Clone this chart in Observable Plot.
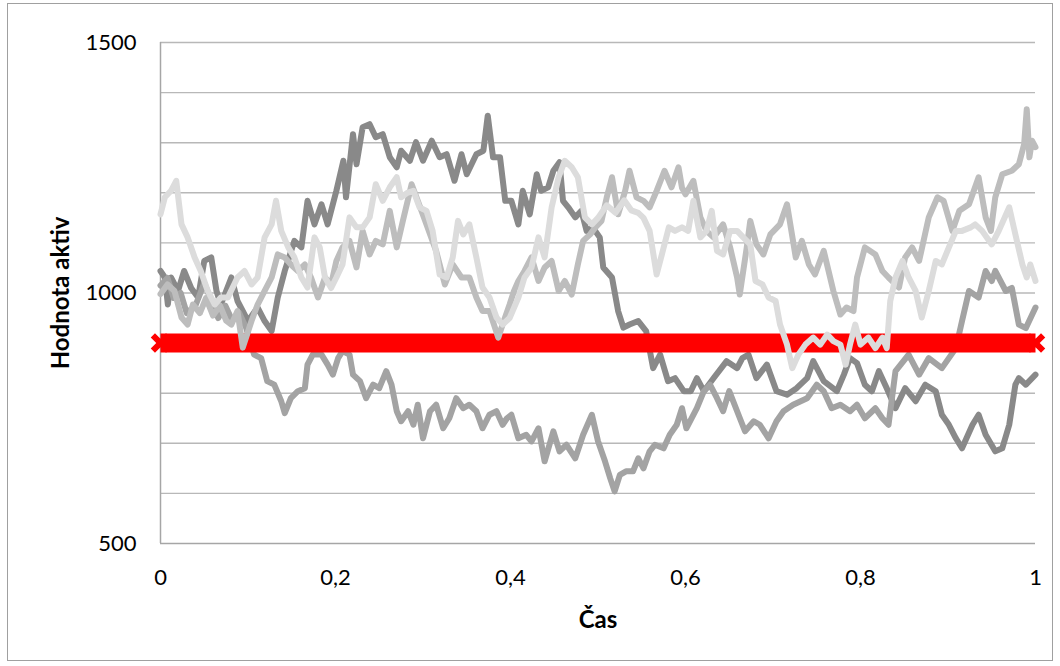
<!DOCTYPE html>
<html><head><meta charset="utf-8">
<script src="https://cdn.jsdelivr.net/npm/d3@7"></script>
<script src="https://cdn.jsdelivr.net/npm/@observablehq/plot@0.6"></script>
<style>
body{margin:0;background:#fff;}
#chart{position:relative;width:1060px;height:666px;}
</style></head><body><div id="chart"></div>
<script>
// Series A (dark gray)
const tA = [0,0.005,0.0084,0.012,0.02,0.027,0.035,0.043,0.05,0.058,0.064,0.069,0.081,0.088,0.1,0.111,0.119,0.127,0.134,0.142,0.153,0.161,0.168,0.176,0.184,0.191,0.201,0.209,0.212,0.22,0.224,0.231,0.239,0.246,0.254,0.262,0.27,0.275,0.285,0.292,0.3,0.31,0.319,0.327,0.336,0.344,0.35,0.361,0.369,0.374,0.38,0.388,0.394,0.401,0.409,0.414,0.422,0.43,0.435,0.443,0.449,0.456,0.46,0.466,0.474,0.481,0.487,0.494,0.502,0.506,0.516,0.523,0.529,0.536,0.546,0.555,0.563,0.571,0.58,0.588,0.598,0.606,0.613,0.621,0.632,0.647,0.659,0.665,0.672,0.681,0.693,0.704,0.716,0.727,0.739,0.746,0.758,0.773,0.781,0.788,0.796,0.805,0.813,0.821,0.83,0.84,0.851,0.863,0.874,0.886,0.893,0.901,0.909,0.916,0.928,0.935,0.943,0.954,0.962,0.97,0.977,0.981,0.989,1];
const vA = [1044,1031,977,1031,1004,1044,1010,991,1064,1071,1004,977,1031,984,944,971,944,924,991,1044,1104,1091,1184,1137,1177,1137,1204,1264,1191,1317,1257,1331,1337,1311,1317,1271,1251,1284,1264,1301,1264,1304,1271,1277,1224,1277,1237,1277,1284,1354,1271,1271,1184,1184,1137,1204,1157,1237,1204,1211,1244,1261,1184,1171,1151,1164,1124,1131,1111,1051,1031,964,931,937,944,924,850,877,824,830,804,804,830,804,830,864,850,870,877,830,857,804,797,810,830,864,824,804,837,870,860,817,804,844,810,770,810,784,817,804,757,737,710,690,737,757,717,684,690,737,817,830,817,837];
// Series B (medium gray)
const tB = [0,0.008,0.015,0.023,0.03,0.04,0.05,0.058,0.066,0.074,0.082,0.09,0.098,0.107,0.115,0.122,0.13,0.138,0.142,0.149,0.157,0.165,0.168,0.174,0.184,0.191,0.197,0.203,0.208,0.216,0.22,0.228,0.235,0.243,0.25,0.258,0.264,0.27,0.275,0.283,0.289,0.294,0.3,0.308,0.315,0.323,0.33,0.338,0.346,0.353,0.361,0.368,0.376,0.384,0.391,0.396,0.401,0.409,0.418,0.424,0.432,0.439,0.449,0.456,0.464,0.474,0.483,0.493,0.5,0.508,0.514,0.519,0.525,0.532,0.54,0.546,0.552,0.559,0.565,0.575,0.582,0.59,0.596,0.601,0.613,0.621,0.628,0.636,0.643,0.65,0.659,0.668,0.678,0.685,0.695,0.704,0.712,0.723,0.739,0.75,0.758,0.767,0.777,0.788,0.796,0.805,0.817,0.825,0.832,0.84,0.855,0.867,0.878,0.893,0.909,0.916,0.924,0.935,0.943,0.95,0.954,0.966,0.973,0.981,0.989,1];
const vB = [1015,1030,990,1000,960,975,1020,985,950,975,945,960,930,877,870,824,817,784,760,790,804,810,857,877,877,857,837,870,884,877,837,824,790,817,810,844,817,764,744,764,737,777,710,764,777,730,750,790,770,777,764,730,757,764,737,750,757,710,717,704,730,664,724,684,697,670,717,757,704,664,630,604,637,644,644,670,650,684,697,690,717,737,770,730,770,804,817,790,764,804,764,724,744,737,710,744,764,777,790,817,804,770,777,764,777,750,770,750,737,844,877,837,870,850,890,944,1004,991,1044,1024,1044,1004,1010,937,930,971];
// Series C (light-medium gray)
const tC = [0,0.008,0.016,0.024,0.031,0.037,0.045,0.052,0.06,0.068,0.075,0.081,0.088,0.094,0.104,0.111,0.119,0.127,0.134,0.142,0.149,0.157,0.165,0.172,0.18,0.188,0.195,0.201,0.208,0.216,0.224,0.231,0.239,0.246,0.254,0.262,0.27,0.277,0.287,0.294,0.304,0.315,0.325,0.334,0.344,0.353,0.361,0.368,0.376,0.386,0.391,0.399,0.404,0.409,0.416,0.424,0.432,0.439,0.447,0.455,0.462,0.47,0.477,0.483,0.491,0.497,0.504,0.51,0.516,0.523,0.531,0.536,0.544,0.552,0.559,0.567,0.576,0.584,0.592,0.596,0.6,0.609,0.617,0.624,0.632,0.643,0.651,0.659,0.662,0.67,0.674,0.681,0.689,0.697,0.708,0.716,0.726,0.733,0.741,0.748,0.758,0.769,0.777,0.784,0.792,0.796,0.805,0.817,0.825,0.832,0.844,0.851,0.859,0.867,0.878,0.888,0.895,0.905,0.913,0.924,0.935,0.943,0.949,0.954,0.962,0.973,0.981,0.987,0.99,0.993,0.996,1];
const vC = [998,1017,1004,951,937,977,960,990,955,975,945,937,964,891,944,977,1004,1031,1077,1071,1057,1044,1057,1031,991,1031,1017,1064,1091,1104,1051,1124,1077,1104,1097,1164,1091,1144,1217,1184,1137,1084,1017,1057,1031,1031,991,964,964,911,937,977,1004,1024,1044,1071,1024,1051,1064,1004,1024,997,1057,1104,1117,1131,1144,1191,1231,1157,1204,1244,1191,1184,1171,1204,1244,1211,1251,1210,1197,1224,1151,1124,1111,1137,1091,1031,997,1091,1144,1097,1077,1117,1137,1177,1071,1104,1057,1037,1084,1004,957,971,964,1031,1091,1077,1044,1031,1011,1071,1091,1064,1151,1191,1184,1124,1164,1177,1231,1151,1124,1191,1237,1244,1257,1297,1367,1271,1304,1291];
// Series D (light gray)
const tD = [0,0.005,0.012,0.018,0.024,0.031,0.039,0.046,0.054,0.062,0.069,0.077,0.088,0.096,0.104,0.111,0.119,0.127,0.132,0.138,0.146,0.153,0.161,0.168,0.176,0.182,0.188,0.195,0.201,0.208,0.216,0.224,0.231,0.239,0.246,0.254,0.262,0.27,0.275,0.282,0.289,0.296,0.304,0.311,0.319,0.327,0.334,0.34,0.346,0.353,0.361,0.368,0.376,0.384,0.391,0.399,0.409,0.416,0.424,0.432,0.439,0.447,0.455,0.462,0.47,0.477,0.485,0.493,0.5,0.51,0.52,0.53,0.538,0.546,0.552,0.559,0.567,0.573,0.581,0.588,0.596,0.603,0.609,0.617,0.624,0.63,0.636,0.643,0.651,0.659,0.666,0.674,0.68,0.688,0.695,0.703,0.708,0.716,0.722,0.729,0.737,0.746,0.754,0.762,0.769,0.777,0.783,0.788,0.794,0.8,0.809,0.817,0.825,0.83,0.834,0.84,0.848,0.855,0.863,0.87,0.878,0.886,0.893,0.901,0.909,0.916,0.926,0.931,0.939,0.95,0.958,0.97,0.977,0.985,0.99,0.994,1];
const vD = [1157,1191,1204,1224,1137,1111,1071,1044,1004,977,991,991,1031,1044,1017,1031,1111,1137,1184,1124,1091,1071,1031,1011,1111,1091,1031,1010,1031,1057,1151,1131,1131,1151,1217,1184,1211,1231,1191,1200,1204,1171,1164,1124,1037,1031,1071,1144,1117,1137,1071,1011,991,951,937,950,991,1031,1051,1111,1071,1171,1231,1264,1251,1231,1151,1137,1150,1175,1160,1185,1165,1160,1150,1124,1037,1077,1131,1124,1131,1124,1184,1111,1124,1164,1084,1077,1124,1124,1111,1097,1024,1017,991,984,937,897,850,877,897,911,897,917,904,897,857,897,937,897,911,890,911,890,984,1031,1064,1031,1004,951,1004,1064,1057,1091,1124,1124,1131,1137,1124,1097,1124,1171,1117,1057,1031,1057,1024];
// Red barrier series
const tRed = [0, 1];
const vRed = [900, 900];
// Axis ticks and grid
const xTicks = [0, 0.2, 0.4, 0.6, 0.8, 1];
const yTicks = [500, 1000, 1500];
const gridValues = [600, 700, 800, 900, 1000, 1100, 1200, 1300, 1400, 1500];

const rows = (t, v) => t.map((x, i) => ({t: x, v: v[i]}));
const fmt = d => String(d).replace(".", ",");
const FONT = "Lato, 'Open Sans', sans-serif";
const lineOpts = c => ({x: "t", y: "v", stroke: c, strokeWidth: 6, strokeLinejoin: "round", strokeLinecap: "round"});

const chart = Plot.plot({
  width: 1060, height: 666,
  marginLeft: 160, marginRight: 25, marginTop: 42, marginBottom: 123,
  style: {fontFamily: FONT, fontSize: "22px", color: "#000", background: "#fff"},
  x: {domain: [0, 1]},
  y: {domain: [500, 1500]},
  marks: [
    Plot.ruleY(gridValues, {stroke: "#b8b8b8", strokeWidth: 1.4}),
    Plot.ruleX([0], {stroke: "#a6a6a6", strokeWidth: 1.5}),
    Plot.ruleY([500], {stroke: "#a6a6a6", strokeWidth: 1.5}),
    Plot.axisY({ticks: yTicks, tickSize: 0, tickPadding: 24, tickFormat: d => String(d), label: null, fontSize: 22}),
    Plot.axisX({ticks: xTicks, tickSize: 0, tickPadding: 26, tickFormat: fmt, label: null, fontSize: 22}),
    Plot.text(["Hodnota aktiv"], {frameAnchor: "left", textAnchor: "middle", lineAnchor: "middle", rotate: -90, dx: -99, fontWeight: "bold", fontSize: 24}),
    Plot.text(["Čas"], {frameAnchor: "bottom", textAnchor: "middle", lineAnchor: "middle", dy: 77, fontWeight: "bold", fontSize: 24}),
    Plot.line(rows(tA, vA), lineOpts("#898989")),
    Plot.line(rows(tB, vB), lineOpts("#a3a3a3")),
    Plot.line(rows(tRed, vRed), {x: "t", y: "v", stroke: "#ff0000", strokeWidth: 19, strokeLinecap: "butt"}),
    Plot.dot(rows(tRed, vRed), {x: "t", y: "v", symbol: "times", r: 7, stroke: "#ff0000", strokeWidth: 6}),
    Plot.line(rows(tC, vC), lineOpts("#bdbdbd")),
    Plot.line(rows(tD, vD), lineOpts("#dcdcdc"))
  ]
});
const ns = "http://www.w3.org/2000/svg";
const border = document.createElementNS(ns, "rect");
border.setAttribute("x", 7.5); border.setAttribute("y", 3.5);
border.setAttribute("width", 1045); border.setAttribute("height", 657);
border.setAttribute("fill", "none"); border.setAttribute("stroke", "#a0a0a0");
chart.appendChild(border);
document.getElementById("chart").appendChild(chart);
</script>
</body></html>
